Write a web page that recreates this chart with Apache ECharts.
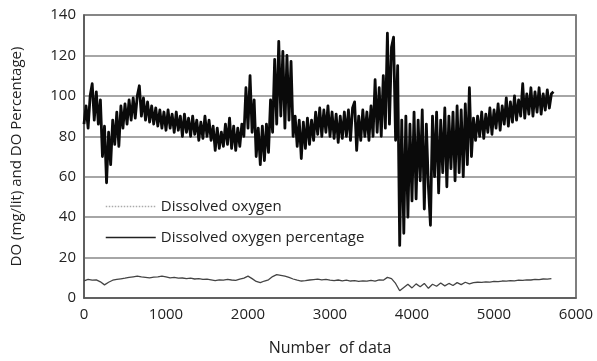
<!DOCTYPE html>
<html>
<head>
<meta charset="utf-8">
<script src="https://cdn.jsdelivr.net/npm/echarts@6/dist/echarts.min.js"></script>
<style>
  html, body { margin: 0; padding: 0; background: #fff; }
  #chart { width: 597px; height: 361px; }
</style>
</head>
<body>
<div id="chart"></div>
<script>
// sample spacing of the read-off values (in "number of data")
const pctStep = 25
const doStep = 50

// Dissolved oxygen percentage, read every 25 samples (high / low of the band)
const pctValues = [
  86, 95, 84, 100, 106, 88, 102, 86, 98,
  70, 85, 57, 82, 66, 88, 76, 92,
  75, 95, 84, 96, 86, 98, 88, 99, 89, 100, 105, 90, 99, 88, 97, 87,
  95, 86, 94, 85, 93, 84, 92, 83, 93, 84, 91, 82, 92, 83, 90, 80, 91, 82, 89, 80, 90, 81, 88, 78, 87, 79, 90, 80,
  88, 78, 85, 73, 84, 74, 82, 75, 86, 76, 89, 74, 85, 73, 84, 75, 86,
  80, 104, 84, 110, 82, 98,
  70, 84, 66, 85, 68, 86, 72,
  98, 82, 118, 86, 127, 90, 122, 84, 120, 88, 117, 80,
  90, 75, 88, 69, 87, 74, 89, 76, 88, 78, 92,
  81, 94, 80, 93, 82, 95, 80, 92, 79,
  91, 77, 90, 79, 92, 80, 93, 78, 94, 97, 73, 90, 78, 93, 80, 92, 78, 95, 80,
  108, 82, 104, 80, 110, 84,
  131, 86, 124, 129, 78, 115,
  26, 88, 32, 90, 40, 86,
  48, 92, 49, 88, 58, 93, 44, 86, 55, 36, 90, 60, 92, 52, 88, 62, 94, 55, 90, 64, 92, 58, 95, 62,
  93, 60, 96, 66, 104, 70,
  89, 78, 90, 80, 92, 79, 91, 82, 94, 81, 93, 84, 96, 83, 95, 86, 99, 85, 97, 87,
  100, 88, 98, 90, 106, 89, 101, 91, 104, 90, 102, 92, 104, 91, 101, 93, 103, 94, 101, 102
]

// Dissolved oxygen (mg/lit), read every 50 samples
const doValues = [
  8.5, 9.2, 8.8, 9.0, 8.0, 6.5, 7.8, 8.8, 9.2, 9.5,
  9.8, 10.2, 10.5, 10.8, 10.4, 10.2, 10.0, 10.3, 10.5, 10.8,
  10.4, 10.0, 10.2, 9.8, 9.9, 9.6, 9.8, 9.4, 9.6, 9.2,
  9.3, 9.0, 8.6, 9.0, 8.8, 9.2, 8.9, 8.7, 9.3, 9.8,
  10.8, 9.6, 8.2, 7.6, 8.4, 9.0, 10.6, 11.6, 11.2, 10.8,
  10.2, 9.4, 8.8, 8.4, 8.6, 8.9, 9.1, 9.3, 9.0, 9.2,
  8.8, 8.6, 8.9, 8.5, 8.8, 8.4, 8.6, 8.2, 8.5, 8.3,
  8.7, 8.4, 9.0, 8.8, 10.2, 9.6, 7.2, 3.6, 5.2, 6.8,
  5.0, 7.0, 5.6, 7.2, 4.8, 6.8, 5.8, 7.4, 6.0, 7.2,
  6.2, 7.6, 6.6, 7.8, 7.0, 7.6, 7.8, 7.7, 8.0, 7.9,
  8.2, 8.1, 8.4, 8.3, 8.6, 8.5, 8.8, 8.7, 9.0, 8.9,
  9.2, 9.1, 9.4, 9.3, 9.6
]

const seriesNames = ['Dissolved oxygen', 'Dissolved oxygen percentage']

const pctData = pctValues.map((v, i) => [i * pctStep, v])
const doData = doValues.map((v, i) => [i * doStep, v])

const fontFamily = '"Open Sans", "Noto Sans", sans-serif'

let chart = echarts.init(document.getElementById('chart'))
chart.setOption({
  animation: false,
  textStyle: { fontFamily: fontFamily },
  grid: {
    left: 84,
    right: 21,
    top: 15,
    bottom: 57,
    show: true,
    borderColor: '#555',
    borderWidth: 1.5,
  },
  legend: {
    orient: 'vertical',
    left: 100,
    top: 194,
    itemWidth: 50,
    itemHeight: 14,
    itemGap: 16,
    itemStyle: { opacity: 0 },
    data: [
      { name: seriesNames[0], lineStyle: { color: '#aaa', type: 'dotted', width: 1.5 } },
      { name: seriesNames[1], lineStyle: { color: '#222', width: 1.5 } },
    ],
    textStyle: { fontSize: 15, color: '#222', fontFamily: fontFamily },
  },
  xAxis: {
    type: 'value',
    min: 0,
    max: 6000,
    interval: 1000,
    name: 'Number  of data',
    nameLocation: 'middle',
    nameGap: 42,
    nameTextStyle: { fontSize: 16, color: '#222' },
    axisLine: { show: true, lineStyle: { color: '#555', width: 1.5 } },
    axisTick: { show: false },
    axisLabel: { fontSize: 15, color: '#222', margin: 9, formatter: (v) => String(v) },
    splitLine: { show: false },
  },
  yAxis: {
    type: 'value',
    min: 0,
    max: 140,
    interval: 20,
    name: 'DO (mg/lit) and DO Percentage)',
    nameLocation: 'middle',
    nameGap: 60,
    nameTextStyle: { fontSize: 15, color: '#222' },
    axisLine: { show: true, lineStyle: { color: '#555', width: 1.5 } },
    axisTick: { show: false },
    axisLabel: { fontSize: 15, color: '#222', margin: 8 },
    splitLine: { show: true, lineStyle: { color: '#888', width: 1.5 } },
  },
  series: [
    {
      name: seriesNames[0],
      type: 'line',
      data: doData,
      showSymbol: false,
      symbol: 'none',
      color: '#444',
      lineStyle: { color: '#444', width: 1.3 },
      z: 3,
    },
    {
      name: seriesNames[1],
      type: 'line',
      data: pctData,
      showSymbol: false,
      symbol: 'none',
      color: '#111',
      lineStyle: { color: '#0a0a0a', width: 2.8, join: 'round' },
      z: 2,
    },
  ],
})

window.addEventListener('resize', function () {
  chart.resize()
})
</script>
</body>
</html>
